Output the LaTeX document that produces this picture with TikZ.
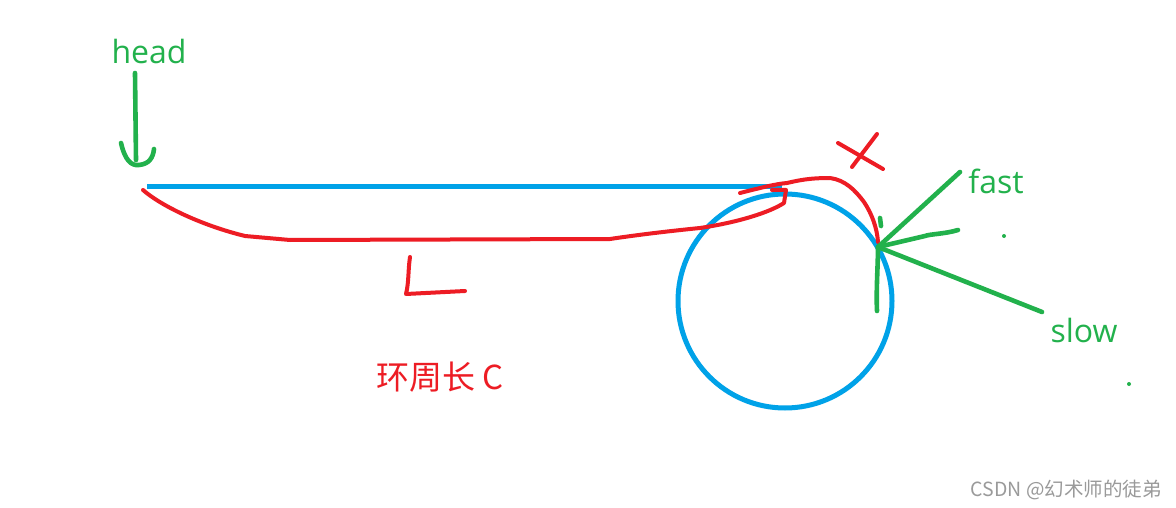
\documentclass[tikz,border=0pt]{standalone}
\usepackage{fontspec}
\setmainfont{Open Sans}
\newfontfamily\cjk{Noto Sans CJK SC}
\definecolor{pgreen}{HTML}{22B14C}
\definecolor{pred}{HTML}{ED1C24}
\definecolor{pblue}{HTML}{00A2E8}
\definecolor{wm}{HTML}{9A9A9A}
\tikzset{
  gpen/.style={draw=pgreen, line width=4.6pt, line cap=round, line join=round},
  rpen/.style={draw=pred, line width=4pt, line cap=round, line join=round},
  bpen/.style={draw=pblue, line width=5pt},
  glabel/.style={text=pgreen, font=\fontsize{32}{36}\selectfont, inner sep=0pt},
}
\begin{document}
\begin{tikzpicture}[x=1pt, y=-1pt]
\useasboundingbox[fill=white] (0,0) rectangle (1176,508);
% labels
\node[glabel] (head) at (149,52) {head};
\node[glabel] (fast) at (996,181) {fast};
\node[glabel] (slow) at (1084,330) {slow};
\node[text=pred, font=\cjk\fontsize{33}{36}\selectfont, inner sep=0pt] (circ) at (440,377) {环周长 C};
\node[text=wm, font=\cjk\fontsize{19.5}{22}\selectfont, inner sep=0pt, anchor=east] (wmk) at (1162,490) {CSDN @幻术师的徒弟};
% head arrow
\coordinate (h1) at (135,73);
\coordinate (h2) at (136,160);
\draw[gpen] (h1) -- (h2);
\draw[gpen] (121,143) .. controls (125,160) and (131,166) .. (139,165) .. controls (149,164) and (153,158) .. (154,149);
% blue line and circle
\coordinate (b1) at (147,187);
\coordinate (b2) at (782,187);
\draw[bpen] (b1) -- (b2);
\node[bpen, circle, minimum size=214pt, inner sep=0pt] (loop) at (785,301) {};
% red L curve
\draw[rpen] (143,190) .. controls (160,205) and (200,225) .. (245,236)
  -- (290,240) -- (610,239) .. controls (630,236) and (660,232) .. (700,228)
  .. controls (740,222) and (770,212) .. (784,203) -- (786,190) -- (772,190);
% red X arc
\draw[rpen] (740,193) .. controls (760,188) and (775,184) .. (787,183)
  .. controls (800,180) and (810,178) .. (830,178)
  .. controls (845,180) and (855,190) .. (864,202)
  .. controls (872,214) and (877,228) .. (878,242);
% red X
\draw[rpen] (838,143) -- (883,169);
\draw[rpen] (877,134) -- (852,167);
% red L letter
\draw[rpen] (410,257) .. controls (408,270) and (409,282) .. (406,294) -- (465,291);
% green pointers
\coordinate (pt) at (878,247);
\draw[gpen] (960,172) -- (pt);
\draw[gpen] (958,230) .. controls (945,234) and (930,234) .. (925,236) -- (pt);
\draw[gpen] (1042,312) -- (pt);
\draw[gpen] (877,311) .. controls (876,290) and (878,265) .. (pt);
\draw[gpen] (880,218) -- (881,226);
\fill[pgreen] (1004,236) circle (2pt);
\fill[pgreen] (1129,384) circle (2pt);
\end{tikzpicture}
\end{document}
